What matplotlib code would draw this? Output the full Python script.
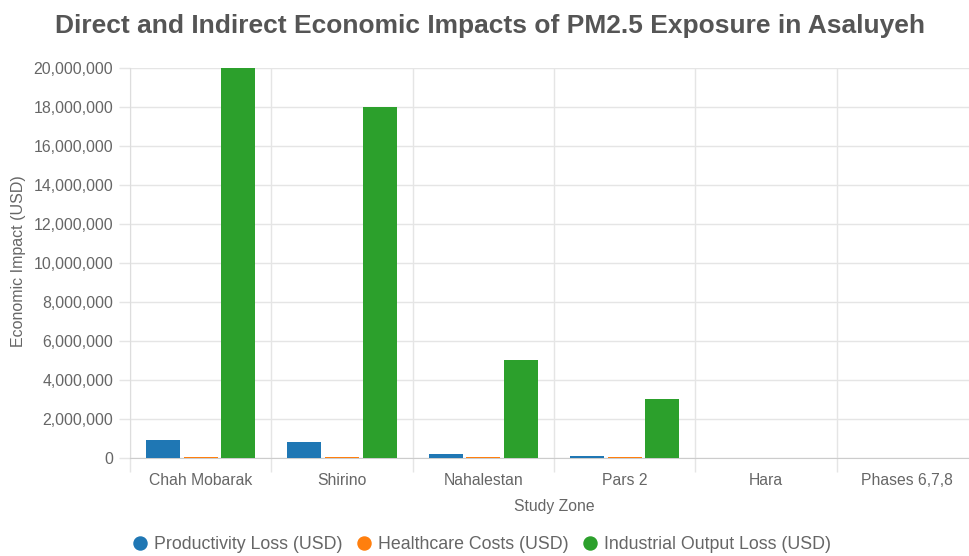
import matplotlib
matplotlib.use("Agg")
import matplotlib.pyplot as plt
from matplotlib.ticker import FuncFormatter
from matplotlib.lines import Line2D
import numpy as np

plt.rcParams['font.family'] = ['Liberation Sans', 'DejaVu Sans']

categories = ["Chah Mobarak", "Shirino", "Nahalestan", "Pars 2", "Hara", "Phases 6,7,8"]
productivity_loss = [900000, 800000, 200000, 120000, 0, 0]
healthcare_costs = [60000, 60000, 60000, 60000, 0, 0]
industrial_output_loss = [20000000, 18000000, 5000000, 3000000, 0, 0]
series_names = ["Productivity Loss (USD)", "Healthcare Costs (USD)", "Industrial Output Loss (USD)"]
colors = ["#1f77b4", "#ff7f0e", "#2ca02c"]

fig = plt.figure(figsize=(9.7, 5.56), dpi=100)
ax = fig.add_axes([0.134, 0.1763, 0.8742, 0.7014])

x = np.arange(len(categories))
bw = 0.8 / 3 * 0.9
offs = [-0.8 / 3, 0, 0.8 / 3]
for vals, off, c, name in zip([productivity_loss, healthcare_costs, industrial_output_loss], offs, colors, series_names):
    ax.bar(x + off, vals, width=bw, color=c, label=name, zorder=3, linewidth=0)

ax.set_xlim(-0.5, len(categories) - 0.5)
ax.set_ylim(0, 20000000)
ax.set_yticks(np.arange(0, 20000001, 2000000))
ax.yaxis.set_major_formatter(FuncFormatter(lambda v, p: f"{int(v):,}"))
ax.set_xticks(x)
ax.set_xticklabels(categories)
ax.set_xticks(np.arange(-0.5, len(categories)), minor=True)

gc = "#e5e5e5"
ax.grid(axis='y', which='major', color=gc, linewidth=1, zorder=0)
ax.grid(axis='x', which='minor', color=gc, linewidth=1, zorder=0)
ax.tick_params(axis='x', which='major', length=0, labelsize=11.3, colors='#666666', pad=10.5)
ax.tick_params(axis='x', which='minor', length=10, color=gc, width=1)
ax.tick_params(axis='y', which='major', length=8, width=1, labelsize=11.4, labelcolor='#666666', pad=4)
ax.tick_params(axis='y', which='major', color=gc)

for s in ['top', 'right']:
    ax.spines[s].set_visible(False)
ax.spines['left'].set_color('#dddddd')
ax.spines['bottom'].set_color('#cccccc')

ax.set_xlabel("Study Zone", fontsize=11.3, color='#666666', va='center')
ax.xaxis.set_label_coords(0.5, -0.1256)
ax.set_ylabel("Economic Impact (USD)", fontsize=11.5, color='#666666', va='center')
ax.yaxis.set_label_coords(-0.132, 0.505)

fig.text(0.505, 0.953, "Direct and Indirect Economic Impacts of PM2.5 Exposure in Asaluyeh",
         ha='center', va='center', fontsize=19, fontweight='bold', color='#555555')

handles = [Line2D([0], [0], marker='o', linestyle='none', markersize=9.4, markerfacecolor=c, markeredgecolor=c)
           for c in colors]
leg = fig.legend(handles, series_names, loc='center', bbox_to_anchor=(0.497, 0.0198), ncol=3, frameon=False,
                 fontsize=12.8, handlelength=0.8, handletextpad=0.4, columnspacing=0.8,
                 borderpad=0, borderaxespad=0)
for t in leg.get_texts():
    t.set_color('#666666')

fig.savefig("out.png", dpi=100)
